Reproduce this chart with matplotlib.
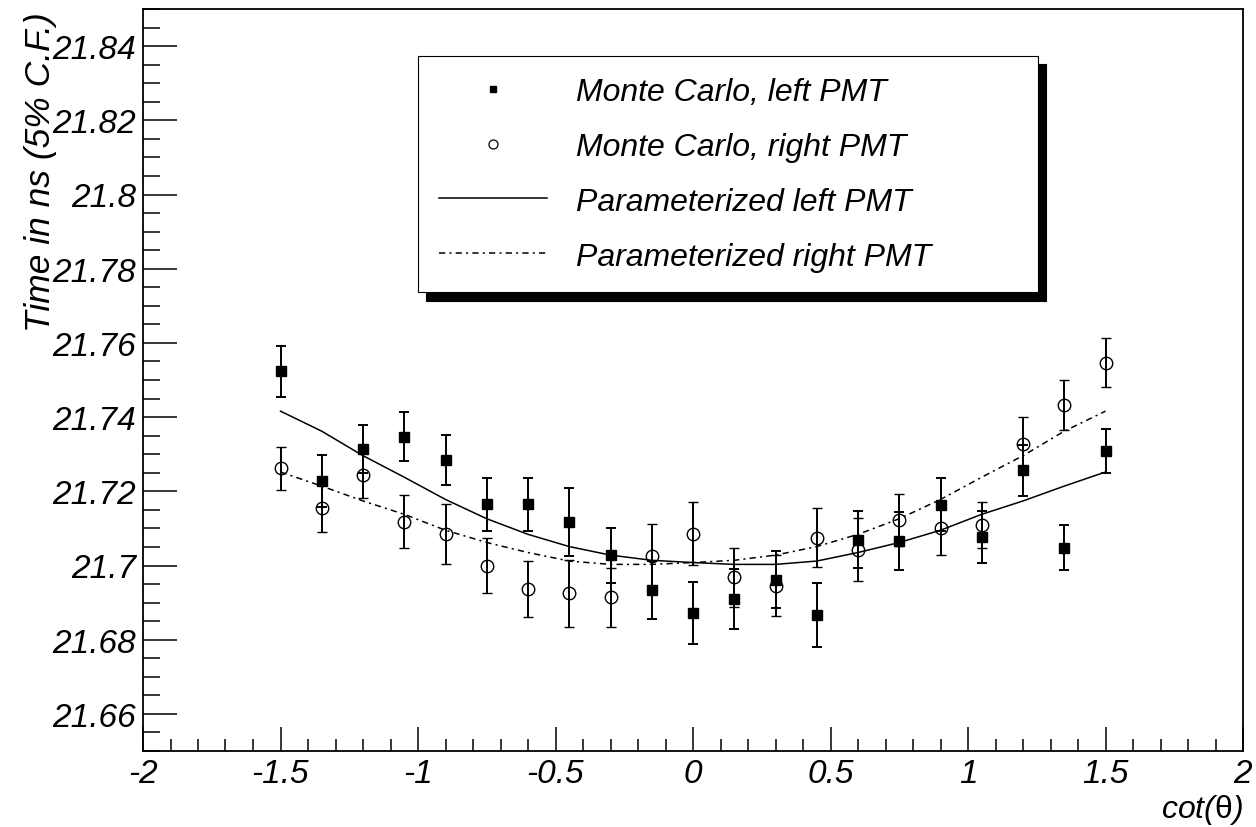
import matplotlib.pyplot as plt
from matplotlib.lines import Line2D
from matplotlib.ticker import MultipleLocator, FuncFormatter

# cot(theta) bins
cot_theta = [-1.5, -1.35, -1.2, -1.05, -0.9, -0.75, -0.6, -0.45, -0.3, -0.15, 0.0,
             0.15, 0.3, 0.45, 0.6, 0.75, 0.9, 1.05, 1.2, 1.35, 1.5]

# Monte Carlo, left PMT (filled squares)
mc_left = [21.7523, 21.7228, 21.7315, 21.7347, 21.7284, 21.7165, 21.7165, 21.7117,
           21.7027, 21.6935, 21.6872, 21.6910, 21.6962, 21.6866, 21.7070, 21.7066,
           21.7164, 21.7076, 21.7257, 21.7048, 21.7308]
mc_left_err = [0.0069, 0.0070, 0.0065, 0.0066, 0.0068, 0.0071, 0.0072, 0.0091,
               0.0073, 0.0078, 0.0084, 0.0081, 0.0077, 0.0086, 0.0078, 0.0077,
               0.0071, 0.0070, 0.0069, 0.0060, 0.0060]

# Monte Carlo, right PMT (open circles)
mc_right = [21.7262, 21.7154, 21.7244, 21.7118, 21.7086, 21.7000, 21.6937, 21.6925,
            21.6914, 21.7025, 21.7086, 21.6968, 21.6946, 21.7075, 21.7043, 21.7122,
            21.7100, 21.7108, 21.7327, 21.7433, 21.7546]
mc_right_err = [0.0058, 0.0063, 0.0063, 0.0072, 0.0081, 0.0075, 0.0075, 0.0090,
                0.0079, 0.0088, 0.0084, 0.0079, 0.0081, 0.0079, 0.0086, 0.0070,
                0.0073, 0.0062, 0.0074, 0.0068, 0.0066]

# parameterized curves, read at the same cot(theta) values
par_left = [21.7416, 21.7362, 21.7296, 21.7238, 21.7178, 21.7126, 21.7084, 21.7051,
            21.7028, 21.7014, 21.7008, 21.7003, 21.7003, 21.7012, 21.7035, 21.7062,
            21.7095, 21.7138, 21.7174, 21.7214, 21.7252]
par_right = [21.7252, 21.7214, 21.7174, 21.7138, 21.7095, 21.7062, 21.7035, 21.7012,
             21.7003, 21.7003, 21.7008, 21.7014, 21.7028, 21.7051, 21.7084, 21.7126,
             21.7178, 21.7238, 21.7296, 21.7362, 21.7416]

labels = ['Monte Carlo, left PMT', 'Monte Carlo, right PMT',
          'Parameterized left PMT', 'Parameterized right PMT']

plt.rcParams['font.family'] = ['Liberation Sans', 'DejaVu Sans']
plt.rcParams['font.style'] = 'italic'
plt.rcParams['axes.unicode_minus'] = False
plt.rcParams['lines.scale_dashes'] = False
plt.rcParams['mathtext.fontset'] = 'custom'
plt.rcParams['mathtext.rm'] = 'Liberation Sans:style=normal'

W, H = 1256, 828
fig = plt.figure(figsize=(W / 100, H / 100), dpi=100)
ax = fig.add_axes([143 / W, 76 / H, 1100 / W, 742 / H])

dashdot = (4.5, 3, 1.5, 3)
ax.plot(cot_theta, par_left, color='black', lw=1.1)
ax.plot(cot_theta, par_right, color='black', lw=1.1, dashes=dashdot)

ax.errorbar(cot_theta, mc_left, yerr=mc_left_err, fmt='s', color='black', ms=6.5,
            elinewidth=1.4, capsize=3.8, capthick=1.4)
ax.errorbar(cot_theta, mc_right, yerr=mc_right_err, fmt='o', color='black', ms=9,
            mfc='none', mew=1.0, elinewidth=1.4, capsize=3.8, capthick=1.4)

ax.set_xlim(-2, 2)
ax.set_ylim(21.65, 21.85)
ax.xaxis.set_major_locator(MultipleLocator(0.5))
ax.xaxis.set_minor_locator(MultipleLocator(0.1))
ax.yaxis.set_major_locator(MultipleLocator(0.02))
ax.yaxis.set_minor_locator(MultipleLocator(0.005))
fmt = FuncFormatter(lambda v, p: '%g' % round(v, 4))
ax.xaxis.set_major_formatter(fmt)
ax.yaxis.set_major_formatter(fmt)

ax.tick_params(which='both', direction='in', top=False, right=False, width=1.1,
               labelsize=24)
ax.tick_params(axis='x', which='major', length=17, pad=5)
ax.tick_params(axis='x', which='minor', length=8.6)
ax.tick_params(axis='y', which='major', length=24.5, pad=5)
ax.tick_params(axis='y', which='minor', length=12.2)
for s in ax.spines.values():
    s.set_linewidth(1.3)

ax.set_ylabel('Time in ns (5% C.F.)', fontsize=25.5, loc='top')
ax.yaxis.set_label_coords(-0.078, 0.997)
ax.set_xlabel('cot($\\mathrm{\\theta}$)', fontsize=23, loc='right')
ax.xaxis.set_label_coords(1.0, -0.055)

handles = [
    Line2D([], [], ls='none', marker='s', color='black', ms=5),
    Line2D([], [], ls='none', marker='o', color='black', mfc='none', ms=6.5, mew=0.9),
    Line2D([], [], color='black', lw=1.1),
    Line2D([], [], color='black', lw=1.1, dashes=dashdot),
]
leg = ax.legend(handles, labels, loc='upper left', mode='expand',
                bbox_to_anchor=(418 / W, 1 - 288 / H, 620 / W, 231 / H),
                bbox_transform=fig.transFigure, fontsize=23, fancybox=False,
                borderpad=0.65, labelspacing=0.78, handlelength=3.4,
                handletextpad=0.9, borderaxespad=0,
                shadow={'ox': 6, 'oy': -6, 'color': 'black', 'alpha': 1})
leg.get_frame().set_edgecolor('black')
leg.get_frame().set_linewidth(0.8)

fig.savefig('out.png', dpi=100)
